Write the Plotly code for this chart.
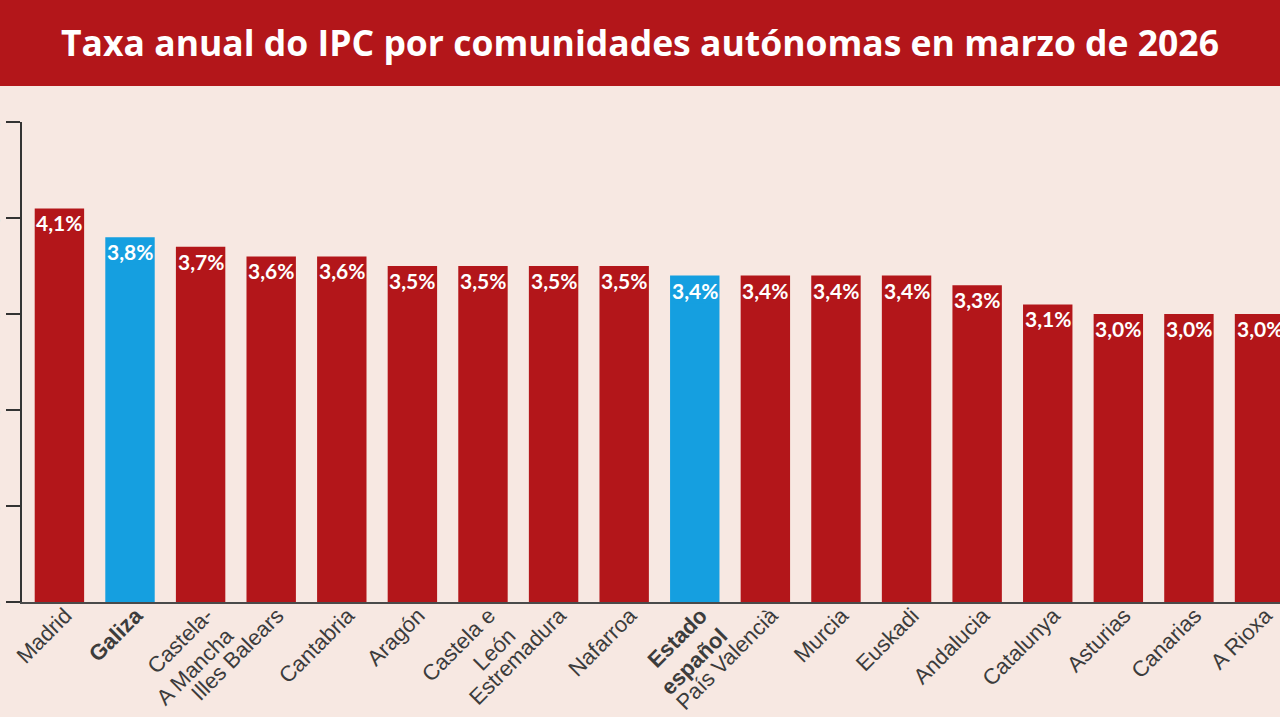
import plotly.graph_objects as go

categories = ["Madrid", "<b>Galiza</b>", "Castela-<br>A Mancha", "Illes Balears", "Cantabria",
              "Aragón", "Castela e<br>León", "Estremadura", "Nafarroa", "<b>Estado<br>español</b>",
              "País Valencià", "Murcia", "Euskadi", "Andalucia", "Catalunya", "Asturias",
              "Canarias", "A Rioxa"]
values = [4.1, 3.8, 3.7, 3.6, 3.6, 3.5, 3.5, 3.5, 3.5, 3.4, 3.4, 3.4, 3.4, 3.3, 3.1, 3.0, 3.0, 3.0]
highlight = [False, True, False, False, False, False, False, False, False, True,
             False, False, False, False, False, False, False, False]
ytick_vals = [0, 1, 2, 3, 4, 5]
ytick_text = ["0%", "1%", "2%", "3%", "4%", "5%"]
title = "Taxa anual do IPC por comunidades autónomas en marzo de 2026"

RED = "#b3161a"
BLUE = "#159fe0"
BG = "#f7e8e2"

colors = [BLUE if h else RED for h in highlight]
xs = list(range(len(categories)))

fig = go.Figure()
fig.add_trace(go.Bar(x=xs, y=values, marker=dict(color=colors, line=dict(width=0)),
                     hoverinfo="skip"))

for x, v, c in zip(xs, values, colors):
    fig.add_annotation(x=x, y=v, xref="x", yref="y", yanchor="top", xanchor="center",
                       text=f"{v:.1f}%".replace(".", ","), showarrow=False,
                       bgcolor=c, borderpad=0, yshift=-1,
                       font=dict(family="Lato", size=21, color="white", weight=700))

fig.update_layout(
    width=1280, height=720,
    margin=dict(l=22, r=0, t=122, b=118, autoexpand=False),
    paper_bgcolor=BG, plot_bgcolor=BG,
    bargap=0.3, showlegend=False,
    title=dict(text=f"<b>{title}</b>", x=0.5, xref="container", xanchor="center",
               y=1 - 44 / 720, yref="container", yanchor="middle",
               font=dict(family="Open Sans", size=35.5, color="white")),
    xaxis=dict(tickmode="array", tickvals=xs, ticktext=categories, tickangle=-45,
               range=[-0.53, 17.29], showline=True, linecolor="#4a4a4a", linewidth=2,
               ticks="", showgrid=False, zeroline=False, automargin=False,
               ticklabelshift=6, ticklabelstandoff=-10,
               tickfont=dict(family="Liberation Sans", size=22, color="#3c3c3c")),
    yaxis=dict(range=[0, 5], tickmode="array", tickvals=ytick_vals, ticktext=ytick_text,
               showline=True, linecolor="#333333", linewidth=1.5, ticks="outside",
               ticklen=14, tickcolor="#333333", tickwidth=1.5, showgrid=False,
               zeroline=False, automargin=False, ticklabelstandoff=2,
               tickfont=dict(family="Liberation Sans", size=20, color="#333333")),
    shapes=[
        dict(type="rect", xref="paper", yref="paper", x0=-0.1, x1=1.1,
             y0=1 + (122 - 86) / 480, y1=1 + 122 / 480 + 0.05,
             fillcolor=RED, line=dict(width=0), layer="below"),
        dict(type="rect", xref="paper", yref="paper", x0=-0.1, x1=1.1,
             y0=-(720 - 602) / 480 - 0.05, y1=-(717 - 602) / 480,
             fillcolor="#ffffff", line=dict(width=0), layer="below"),
    ],
)

fig.write_html("out.html")
